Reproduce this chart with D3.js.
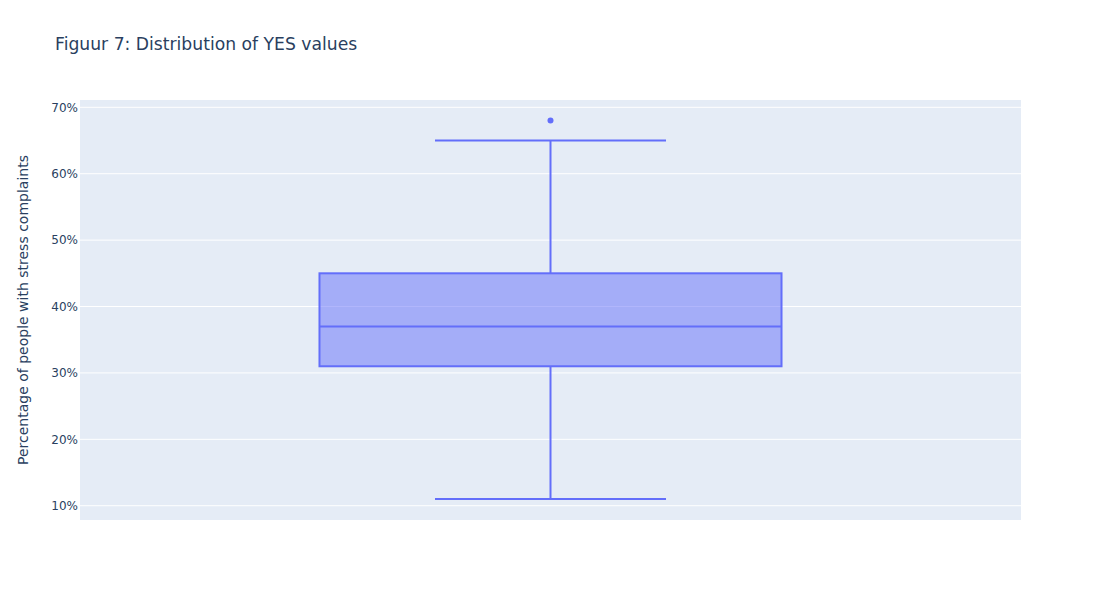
<!DOCTYPE html>
<html><head><meta charset="utf-8">
<script src="https://cdn.jsdelivr.net/npm/d3@7"></script>
<style>body{margin:0;background:#fff}svg{display:block}text{font-family:"DejaVu Sans",sans-serif}</style>
</head><body>
<svg id="c" width="1101" height="600"></svg>
<script>
const categories = ["YES"];
const lowerFence = [11];
const q1 = [31];
const median = [37];
const q3 = [45];
const upperFence = [65];
const outliers = [[68]];
const yTicks = [10, 20, 30, 40, 50, 60, 70];

const W = 1101, H = 600;
const m = {l: 80, r: 80, t: 100, b: 80};
const svg = d3.select("#c");
const iw = W - m.l - m.r, ih = H - m.t - m.b;

svg.append("rect").attr("x", m.l).attr("y", m.t).attr("width", iw).attr("height", ih).attr("fill", "#E5ECF6");

const y = d3.scaleLinear().domain([7.85, 71.1]).range([m.t + ih, m.t]);
const x = d3.scaleBand().domain(categories).range([m.l, m.l + iw]).paddingInner(0).paddingOuter(0);

const g = svg.append("g");
g.selectAll("line.grid").data(yTicks).join("line")
  .attr("x1", m.l).attr("x2", m.l + iw)
  .attr("y1", d => y(d)).attr("y2", d => y(d))
  .attr("stroke", "#fff").attr("stroke-width", 1);

const yAxis = d3.axisLeft(y).tickValues(yTicks).tickFormat(d => d + "%").tickSize(0).tickPadding(2);
const ya = svg.append("g").attr("transform", `translate(${m.l},0)`).call(yAxis);
ya.select(".domain").remove();
ya.selectAll("text").attr("fill", "#2a3f5f").style("font-size", "12px").style("font-family", '"DejaVu Sans", sans-serif');

const boxFrac = 0.491, whiskFrac = 0.5;
categories.forEach((c, i) => {
  const cx = x(c) + x.bandwidth() / 2;
  const bw = x.bandwidth() * boxFrac;
  const ww = bw * whiskFrac;
  const col = "#636efa";
  const bg = svg.append("g");
  bg.append("line").attr("x1", cx).attr("x2", cx).attr("y1", y(q3[i])).attr("y2", y(upperFence[i])).attr("stroke", col).attr("stroke-width", 2);
  bg.append("line").attr("x1", cx).attr("x2", cx).attr("y1", y(q1[i])).attr("y2", y(lowerFence[i])).attr("stroke", col).attr("stroke-width", 2);
  bg.append("line").attr("x1", cx - ww / 2).attr("x2", cx + ww / 2).attr("y1", y(upperFence[i])).attr("y2", y(upperFence[i])).attr("stroke", col).attr("stroke-width", 2);
  bg.append("line").attr("x1", cx - ww / 2).attr("x2", cx + ww / 2).attr("y1", y(lowerFence[i])).attr("y2", y(lowerFence[i])).attr("stroke", col).attr("stroke-width", 2);
  bg.append("rect").attr("x", cx - bw / 2).attr("width", bw)
    .attr("y", y(q3[i])).attr("height", y(q1[i]) - y(q3[i]))
    .attr("fill", "rgba(99,110,250,0.5)").attr("stroke", col).attr("stroke-width", 2);
  bg.append("line").attr("x1", cx - bw / 2).attr("x2", cx + bw / 2).attr("y1", y(median[i])).attr("y2", y(median[i])).attr("stroke", col).attr("stroke-width", 2);
  bg.selectAll("circle").data(outliers[i]).join("circle")
    .attr("cx", cx).attr("cy", d => y(d)).attr("r", 3).attr("fill", col);
});

svg.append("text").attr("x", 55).attr("y", 50).attr("fill", "#2a3f5f").style("font-size", "17.2px")
  .text("Figuur 7: Distribution of YES values");

svg.append("text").attr("transform", `translate(28,${m.t + ih / 2}) rotate(-90)`)
  .attr("text-anchor", "middle").attr("fill", "#2a3f5f").style("font-size", "14px")
  .text("Percentage of people with stress complaints");
</script>
</body></html>
